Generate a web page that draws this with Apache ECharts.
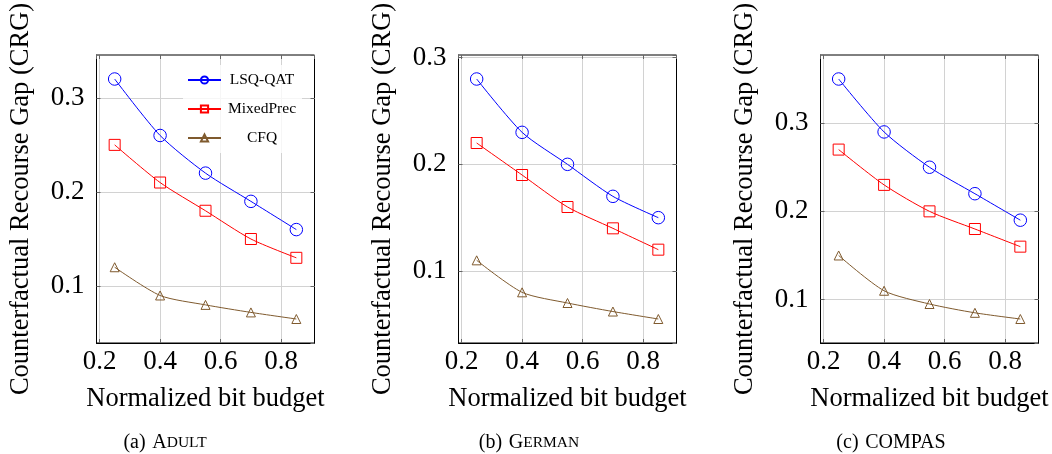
<!DOCTYPE html>
<html>
<head>
<meta charset="utf-8">
<script src="https://cdn.jsdelivr.net/npm/echarts@6/dist/echarts.min.js"></script>
<style>
  html, body { margin: 0; padding: 0; background: #fff; }
  #chart { width: 1052px; height: 454px; }
</style>
</head>
<body>
<div id="chart"></div>
<script>
// Normalized bit budget (shared x values)
const budget = [0.25, 0.4, 0.55, 0.7, 0.85];

// Adult
const adultLsq   = [0.32, 0.26, 0.22, 0.19, 0.16];
const adultMixed = [0.25, 0.21, 0.18, 0.15, 0.13];
const adultCfq   = [0.12, 0.09, 0.08, 0.072, 0.065];

// German
const germanLsq   = [0.28, 0.23, 0.20, 0.17, 0.15];
const germanMixed = [0.22, 0.19, 0.16, 0.14, 0.12];
const germanCfq   = [0.11, 0.08, 0.07, 0.062, 0.055];

// COMPAS
const compasLsq   = [0.35, 0.29, 0.25, 0.22, 0.19];
const compasMixed = [0.27, 0.23, 0.20, 0.18, 0.16];
const compasCfq   = [0.15, 0.11, 0.095, 0.085, 0.078];

const methodNames = ['LSQ-QAT', 'MixedPrec', 'CFQ'];
const panelCaptions = ['(a)', '(b)', '(c)'];
const datasetNames = ['ADULT', 'GERMAN', 'COMPAS'];
const xTitle = 'Normalized bit budget';
const yTitle = 'Counterfactual Recourse Gap (CRG)';

const SERIF = '"Liberation Serif", "DejaVu Serif", serif';
const methodStyle = [
  { color: '#0000ff', symbol: 'circle', size: 12.5 },
  { color: '#ff0000', symbol: 'rect', size: 11 },
  { color: '#7f5a2e', symbol: 'triangle', size: 9 }
];

const panels = [
  { series: [adultLsq, adultMixed, adultCfq], left: 96.5, capX: 165 },
  { series: [germanLsq, germanMixed, germanCfq], left: 458.5, capX: 529 },
  { series: [compasLsq, compasMixed, compasCfq], left: 820.5, capX: 891 }
];

// axis limits padded by 10% of the data range on each side
function padded(values) {
  const lo = Math.min(...values), hi = Math.max(...values);
  const pad = (hi - lo) * 0.1;
  return [lo - pad, hi + pad];
}

const fmt = v => String(Math.round(v * 10) / 10);
const tickStyle = { show: true, inside: true, length: 4, lineStyle: { color: '#666', width: 1 } };
const gridLine = { show: true, showMinLine: false, showMaxLine: false,
  lineStyle: { color: '#d2d2d2', width: 1 } };

const grids = [], xAxes = [], yAxes = [], series = [], graphics = [];

panels.forEach((p, i) => {
  grids.push({
    left: p.left, top: 55, width: 218, height: 288,
    show: true, borderColor: '#000', borderWidth: 1, backgroundColor: 'transparent'
  });
  const xr = padded(budget);
  const yr = padded([].concat(...p.series));
  // main bottom / left axes
  xAxes.push({
    type: 'value', gridIndex: i, position: 'bottom', min: xr[0], max: xr[1],
    minInterval: 0.2, maxInterval: 0.2,
    name: xTitle, nameLocation: 'middle', nameGap: 43,
    nameTextStyle: { fontFamily: SERIF, fontSize: 26.5, color: '#000' },
    axisLine: { show: true, onZero: false, lineStyle: { color: '#000', width: 1 } },
    axisTick: tickStyle,
    axisLabel: {
      fontFamily: SERIF, fontSize: 27, color: '#000', margin: 5,
      showMinLabel: false, showMaxLabel: false, formatter: fmt
    },
    splitLine: gridLine
  });
  // mirrored top axis: ticks only
  xAxes.push({
    type: 'value', gridIndex: i, position: 'top', min: xr[0], max: xr[1],
    minInterval: 0.2, maxInterval: 0.2,
    axisLine: { show: false }, axisTick: tickStyle,
    axisLabel: { show: false }, splitLine: { show: false }
  });
  yAxes.push({
    type: 'value', gridIndex: i, position: 'left', min: yr[0], max: yr[1],
    minInterval: 0.1, maxInterval: 0.1,
    name: yTitle, nameLocation: 'middle', nameGap: 62,
    nameTextStyle: { fontFamily: SERIF, fontSize: 26.5, color: '#000' },
    axisLine: { show: true, onZero: false, lineStyle: { color: '#000', width: 1 } },
    axisTick: tickStyle,
    axisLabel: {
      fontFamily: SERIF, fontSize: 27, color: '#000', margin: 12,
      showMinLabel: false, showMaxLabel: false, formatter: fmt
    },
    splitLine: gridLine
  });
  // mirrored right axis: ticks only
  yAxes.push({
    type: 'value', gridIndex: i, position: 'right', min: yr[0], max: yr[1],
    minInterval: 0.1, maxInterval: 0.1,
    axisLine: { show: false }, axisTick: tickStyle,
    axisLabel: { show: false }, splitLine: { show: false }
  });
  p.series.forEach((vals, k) => {
    const st = methodStyle[k];
    series.push({
      name: methodNames[k], type: 'line', xAxisIndex: 2 * i, yAxisIndex: 2 * i,
      data: budget.map((x, j) => [x, vals[j]]),
      smooth: 0.25, symbol: st.symbol, symbolSize: st.size,
      showAllSymbol: true, animation: false, z: 3,
      lineStyle: { color: st.color, width: 1 },
      itemStyle: { color: 'rgba(255,255,255,0)', borderColor: st.color, borderWidth: 1 },
      emphasis: { disabled: true }
    });
  });
  // panel caption, small caps for the first two dataset names
  const name = datasetNames[i];
  const smallCaps = i < 2;
  graphics.push({
    type: 'text',
    x: p.capX, y: 443,
    style: {
      text: smallCaps
        ? '{p|' + panelCaptions[i] + '}  {big|' + name[0] + '}{small|' + name.slice(1) + '}'
        : '{p|' + panelCaptions[i] + '}  {big|' + name + '}',
      rich: {
        p: { fontFamily: SERIF, fontSize: 20, fill: '#000' },
        big: { fontFamily: SERIF, fontSize: 20, fill: '#000' },
        small: { fontFamily: SERIF, fontSize: 15.5, fill: '#000' }
      },
      align: 'center', verticalAlign: 'middle'
    }
  });
});

const chart = echarts.init(document.getElementById('chart'), null, { renderer: 'canvas' });
chart.setOption({
  animation: false,
  grid: grids,
  xAxis: xAxes,
  yAxis: yAxes,
  series: series,
  legend: {
    data: methodNames,
    orient: 'vertical', left: 183, top: 65,
    padding: [6, 4, 6, 4], itemGap: 11, itemWidth: 33, itemHeight: 9,
    backgroundColor: 'rgba(255,255,255,0.8)',
    formatter: '{c|{name}}',
    textStyle: {
      fontFamily: SERIF, fontSize: 15.5, color: '#000',
      rich: { c: { width: 72, height: 18, lineHeight: 18, align: 'center', fontFamily: SERIF, fontSize: 15.5 } }
    },
    selectedMode: false
  },
  graphic: graphics
});
</script>
</body>
</html>
